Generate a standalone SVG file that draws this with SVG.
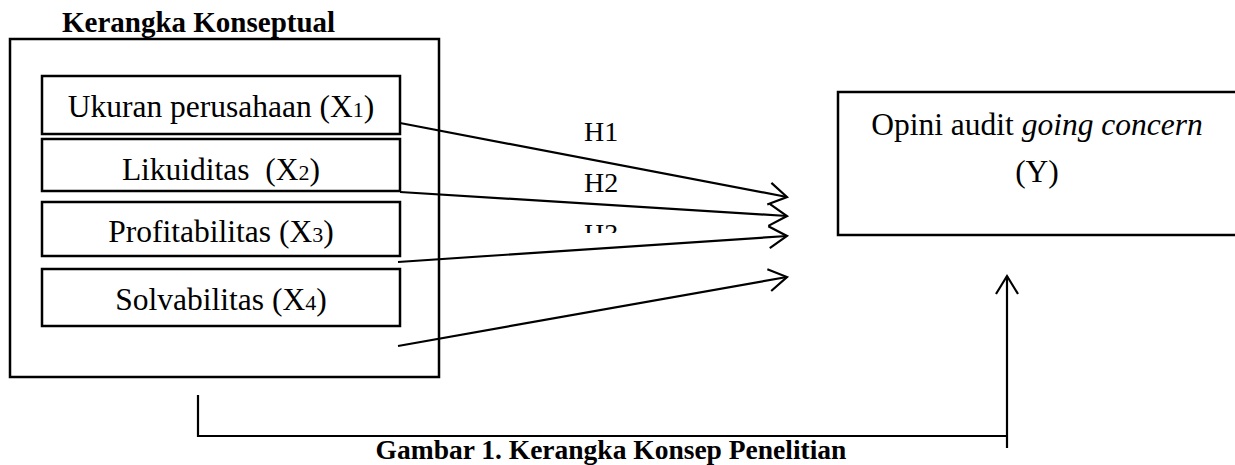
<svg xmlns="http://www.w3.org/2000/svg" width="1235" height="465" viewBox="0 0 1235 465">
<style>
.box{fill:none;stroke:#000;stroke-width:2.5}
.ln{fill:none;stroke:#000;stroke-width:2.2}
.t{font-family:"Liberation Serif","Times New Roman",serif;font-size:31.5px;fill:#000}
.sub{font-size:22px}
.b{font-family:"Liberation Serif","Times New Roman",serif;font-weight:bold;fill:#000}
.h{font-family:"Liberation Serif","Times New Roman",serif;font-size:28px;fill:#000}
</style>
<defs>
<marker id="arr" markerUnits="userSpaceOnUse" markerWidth="30" markerHeight="30" viewBox="-20 -15 24 30" refX="0" refY="0" orient="auto">
<path d="M-18,-11 L0,0 L-18,11" fill="none" stroke="#000" stroke-width="2.2"/>
</marker>
<clipPath id="h3clip"><rect x="560" y="200" width="100" height="33"/></clipPath>
</defs>
<rect width="1235" height="465" fill="#fff"/>
<text class="b" x="62" y="32" font-size="29">Kerangka Konseptual</text>
<g id="frame"><rect class="box" x="10" y="39" width="429" height="338"/></g>
<g id="x1"><rect class="box" x="42" y="76" width="358" height="58"/><text class="t" x="221" y="117" text-anchor="middle">Ukuran perusahaan (X<tspan class="sub">1</tspan>)</text></g>
<g id="x2"><rect class="box" x="42" y="139" width="358" height="52"/><text class="t" x="221" y="180" text-anchor="middle" xml:space="preserve">Likuiditas  (X<tspan class="sub">2</tspan>)</text></g>
<g id="x3"><rect class="box" x="42" y="202" width="358" height="54"/><text class="t" x="221" y="242" text-anchor="middle">Profitabilitas (X<tspan class="sub">3</tspan>)</text></g>
<g id="x4"><rect class="box" x="42" y="269" width="358" height="57"/><text class="t" x="221" y="310" text-anchor="middle">Solvabilitas (X<tspan class="sub">4</tspan>)</text></g>
<g id="y"><rect class="box" x="838" y="92" width="420" height="143"/><text class="t" x="1037" y="135" text-anchor="middle">Opini audit <tspan font-style="italic">going concern</tspan></text><text class="t" x="1037" y="182" text-anchor="middle">(Y)</text></g>
<g id="connectors">
<line class="ln" x1="400" y1="123" x2="787" y2="197" marker-end="url(#arr)"/>
<line class="ln" x1="400" y1="192" x2="787" y2="216" marker-end="url(#arr)"/>
<line class="ln" x1="398" y1="262" x2="787" y2="236" marker-end="url(#arr)"/>
<line class="ln" x1="398" y1="346" x2="787" y2="277" marker-end="url(#arr)"/>
<polyline class="ln" points="198,395 198,436 1007,436"/>
<line class="ln" x1="1007" y1="448" x2="1007" y2="276" marker-end="url(#arr)"/>
<text class="h" x="584" y="141">H1</text>
<text class="h" x="584" y="192">H2</text>
<text class="h" x="584" y="243" clip-path="url(#h3clip)">H3</text>
</g>
<text class="b" x="611" y="459" font-size="27.5" text-anchor="middle">Gambar 1. Kerangka Konsep Penelitian</text>
</svg>
